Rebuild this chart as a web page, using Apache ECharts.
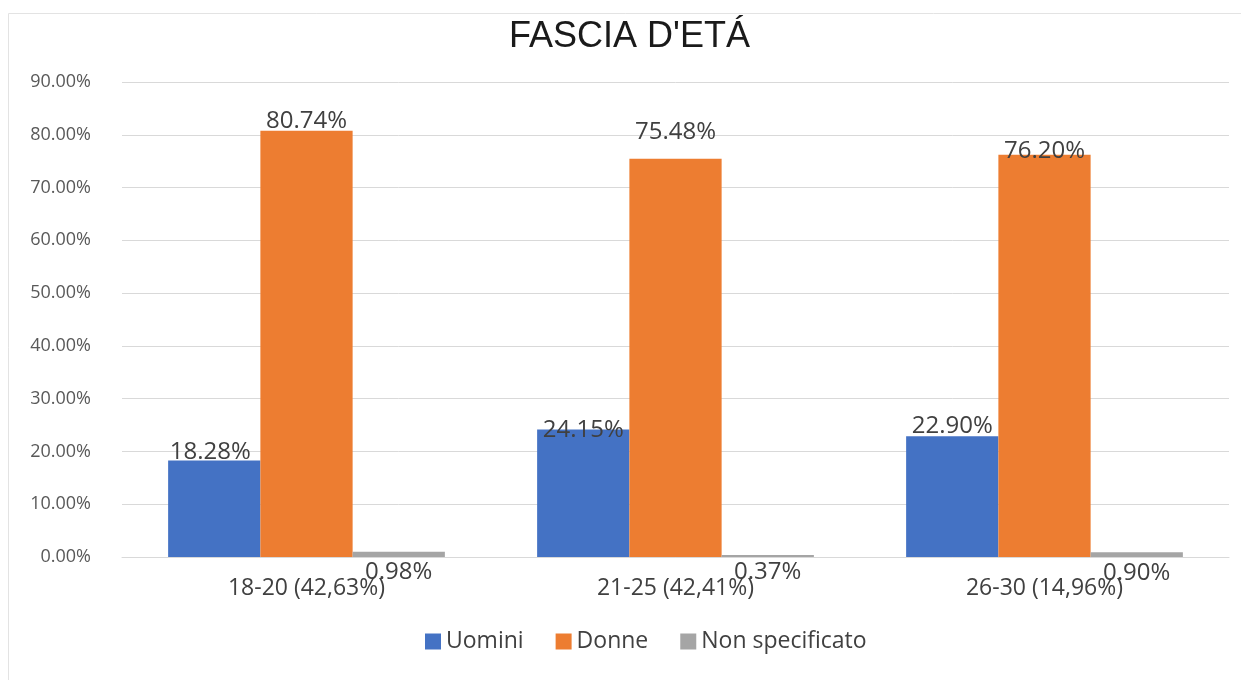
<!DOCTYPE html>
<html>
<head>
    <meta charset="utf-8">
    <title>FASCIA D'ETÁ</title>
    <script src="https://cdn.jsdelivr.net/npm/echarts@6/dist/echarts.min.js"></script>
    <style>
        html, body { margin: 0; padding: 0; background: #fff; }
        #chart { width: 1241px; height: 680px; }
    </style>
</head>
<body>
<div id="chart"></div>
<script type="text/javascript">
    // data
    var categories = ['18-20 (42,63%)', '21-25 (42,41%)', '26-30 (14,96%)'];
    var uomini = [18.28, 24.15, 22.90];
    var donne = [80.74, 75.48, 76.20];
    var nonSpecificato = [0.98, 0.37, 0.90];
    var yTicks = [0, 10, 20, 30, 40, 50, 60, 70, 80, 90];

    // the labels were moved by hand in the original, so nudge them the same way
    var shiftUomini = [[-4, 4], [0, 13], [0, 2]];
    var shiftDonne = [[0, 2], [0, -14], [0, 8]];
    var shiftNon = [[0, 32], [0, 29], [0, 33]];

    function withLabels(values, shifts) {
        return values.map(function (v, i) {
            return { value: v, label: { offset: shifts[i] } };
        });
    }

    var labelStyle = {
        show: true,
        position: 'top',
        distance: 0,
        fontFamily: 'Open Sans',
        fontSize: 24,
        color: '#404040',
        formatter: function (p) { return p.value.toFixed(2) + '%'; }
    };

    var chart = echarts.init(document.getElementById('chart'));
    chart.setOption({
        backgroundColor: '#ffffff',
        animation: false,
        graphic: [{
            type: 'rect',
            shape: { x: 8.5, y: 13.5, width: 1260, height: 700 },
            style: { fill: 'none', stroke: '#e3e3e3', lineWidth: 1 },
            silent: true
        }],
        title: {
            text: "FASCIA D'ETÁ",
            left: 509,
            top: 19,
            padding: 0,
            textStyle: {
                fontFamily: 'Liberation Sans',
                fontSize: 36,
                fontWeight: 'normal',
                color: '#1a1a1a'
            }
        },
        legend: {
            data: ['Uomini', 'Donne', 'Non specificato'],
            left: 425,
            top: 630,
            padding: 0,
            icon: 'rect',
            itemWidth: 16,
            itemHeight: 16,
            itemGap: 32,
            textStyle: { fontFamily: 'Open Sans', fontSize: 23, color: '#404040' }
        },
        grid: { left: 122, right: 12, top: 82, bottom: 123, containLabel: false },
        xAxis: {
            type: 'category',
            data: categories,
            axisTick: { show: false },
            axisLine: { lineStyle: { color: '#d9d9d9', width: 1 } },
            axisLabel: {
                margin: 20,
                fontFamily: 'Open Sans',
                fontSize: 23,
                color: '#404040'
            }
        },
        yAxis: {
            type: 'value',
            min: yTicks[0],
            max: yTicks[yTicks.length - 1],
            interval: 10,
            axisLine: { show: false },
            axisTick: { show: false },
            splitLine: { lineStyle: { color: '#d9d9d9', width: 1 } },
            axisLabel: {
                margin: 31,
                fontFamily: 'Open Sans',
                fontSize: 18,
                color: '#595959',
                formatter: function (v) { return v.toFixed(2) + '%'; }
            }
        },
        series: [{
            name: 'Uomini',
            type: 'bar',
            barGap: '0%',
            barCategoryGap: '25%',
            itemStyle: { color: '#4472c4' },
            label: labelStyle,
            data: withLabels(uomini, shiftUomini)
        }, {
            name: 'Donne',
            type: 'bar',
            itemStyle: { color: '#ed7d31' },
            label: labelStyle,
            data: withLabels(donne, shiftDonne)
        }, {
            name: 'Non specificato',
            type: 'bar',
            itemStyle: { color: '#a5a5a5' },
            label: labelStyle,
            data: withLabels(nonSpecificato, shiftNon)
        }]
    });
</script>
</body>
</html>
